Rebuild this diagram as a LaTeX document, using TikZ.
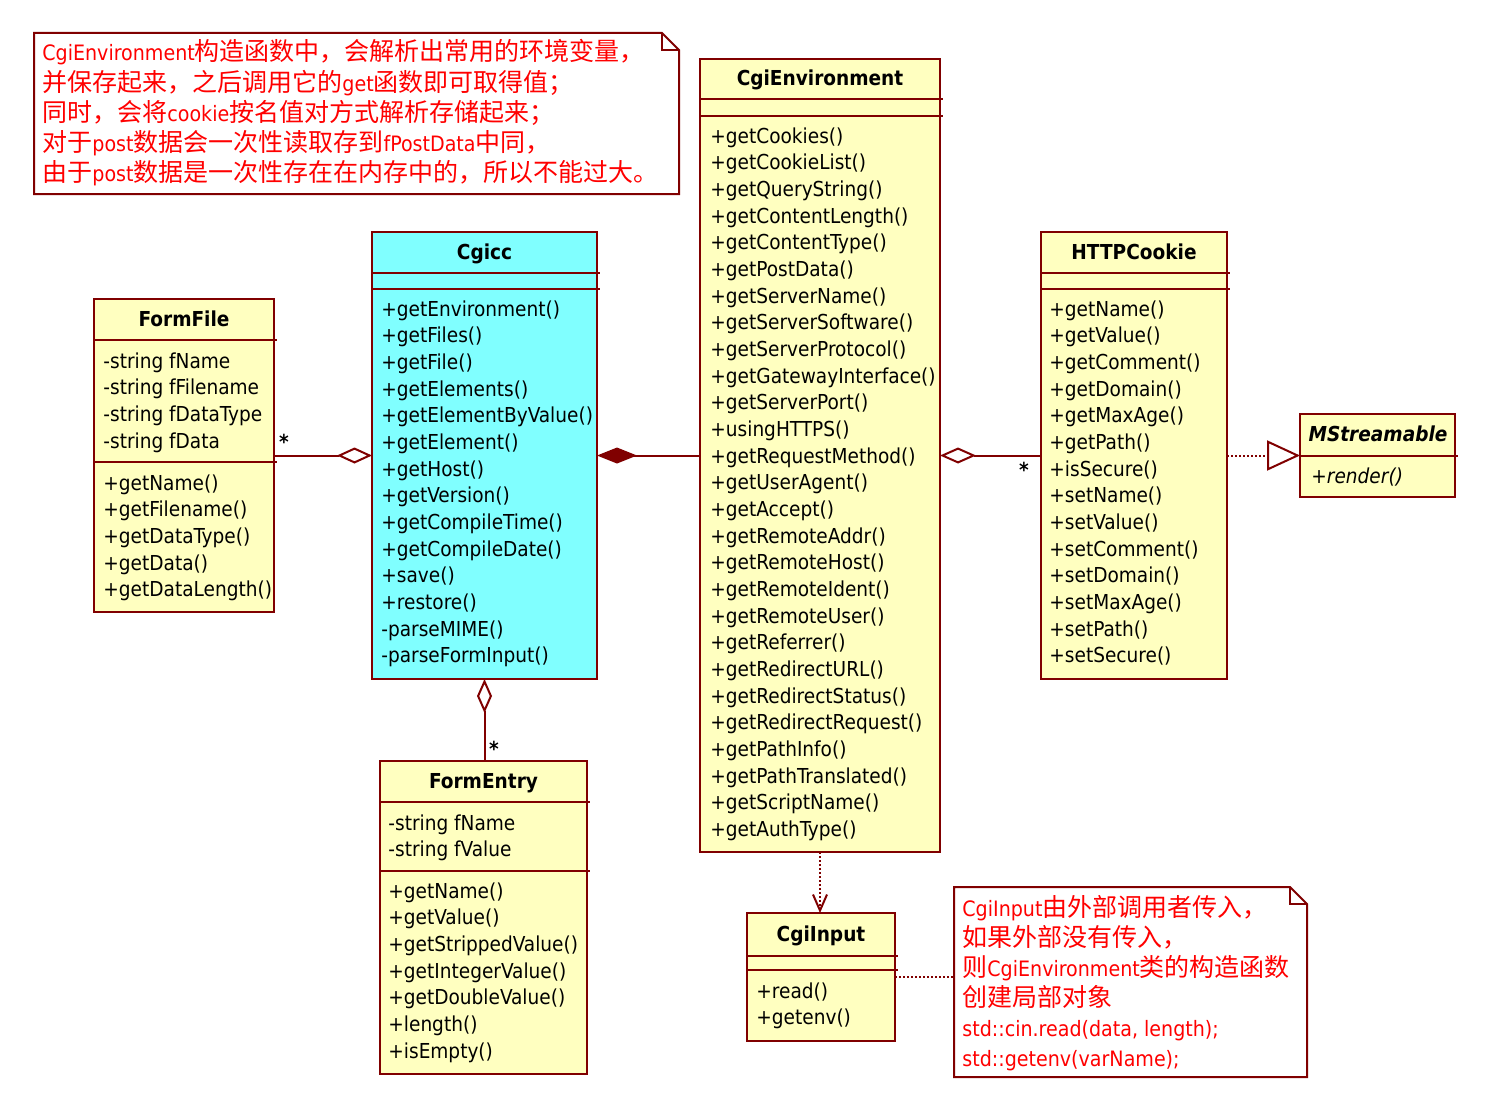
\documentclass[tikz,border=0pt]{standalone}
\usepackage{fontspec}
\setmainfont{DejaVu Sans Condensed}[BoldFont=DejaVu Sans Condensed Bold, ItalicFont=DejaVu Sans Condensed Oblique, BoldItalicFont=DejaVu Sans Condensed Bold Oblique]
\newfontfamily\cjk{Noto Sans CJK SC}
\usetikzlibrary{arrows.meta,fit}
\definecolor{bord}{RGB}{128,0,0}
\definecolor{clsfill}{RGB}{255,255,192}
\definecolor{cyanfill}{RGB}{128,255,255}
\definecolor{notered}{RGB}{255,0,0}
\newcommand\clsfont{\fontsize{10.3}{12}\selectfont}
\newcommand\notefont{\fontsize{10.6}{12}\selectfont}
\newcommand\zh[1]{{\cjk\fontsize{12.5}{14}\selectfont #1}}
\newcommand\sepat[2]{\draw[sepline] (#1.west |- 0,#2) -- ([xshift=1.5pt]#1.east |- 0,#2);}
\newcommand\mlist[4]{\foreach \t [count=\i] in {#4} {\node[txt] (#1-\i) at (#2,{#3+(\i-1)*26.67+7}) {\t};}}
\begin{document}
\begin{tikzpicture}[x=0.5pt,y=-0.5pt,
 bordline/.style={draw=bord, line width=1pt},
 umlclass/.style={draw=bord, line width=1pt, fill=clsfill, inner sep=0pt, outer sep=0pt},
 txt/.style={anchor=base west, inner sep=0pt, font=\clsfont},
 ttl/.style={anchor=base, inner sep=0pt, font=\clsfont\bfseries},
 sepline/.style={draw=bord, line width=1pt},
 star/.style={inner sep=0pt, font=\clsfont\bfseries},
 notebox/.style={inner sep=0pt, outer sep=0pt, fill=white},
 notetxt/.style={anchor=base west, inner sep=0pt, font=\notefont, text=notered},
 dotline/.style={draw=bord, line width=1pt, dash pattern=on 1pt off 1pt},
]
\fill[white] (0,0) rectangle (1491,1113);
\useasboundingbox (0,0) rectangle (1491,1113);

% ---------- Note 1 ----------
\node[notebox, fit={(34,33)(679,194)}] (note1) {};
\draw[bordline] (note1.north west) -- ([xshift=-8.5pt]note1.north east) -- ([yshift=-8.5pt]note1.north east) -- (note1.south east) -- (note1.south west) -- cycle;
\draw[bordline] ([xshift=-8.5pt]note1.north east) -- ++(0,-8.5pt) -- ([yshift=-8.5pt]note1.north east);
\node[notetxt] (n1a) at (42,61) {CgiEnvironment\zh{构造函数中，会解析出常用的环境变量，}};
\node[notetxt] (n1b) at (42,91) {\zh{并保存起来，之后调用它的}get\zh{函数即可取得值；}};
\node[notetxt] (n1c) at (42,121) {\zh{同时，会将}cookie\zh{按名值对方式解析存储起来；}};
\node[notetxt] (n1d) at (42,151) {\zh{对于}post\zh{数据会一次性读取存到}fPostData\zh{中同，}};
\node[notetxt] (n1e) at (42,181) {\zh{由于}post\zh{数据是一次性存在在内存中的，所以不能过大。}};

% ---------- Note 2 ----------
\node[notebox, fit={(954,887)(1307,1077)}] (note2) {};
\draw[bordline] (note2.north west) -- ([xshift=-8.5pt]note2.north east) -- ([yshift=-8.5pt]note2.north east) -- (note2.south east) -- (note2.south west) -- cycle;
\draw[bordline] ([xshift=-8.5pt]note2.north east) -- ++(0,-8.5pt) -- ([yshift=-8.5pt]note2.north east);
\node[notetxt] (n2a) at (962,916) {CgiInput\zh{由外部调用者传入，}};
\node[notetxt] (n2b) at (962,946) {\zh{如果外部没有传入，}};
\node[notetxt] (n2c) at (962,976) {\zh{则}CgiEnvironment\zh{类的构造函数}};
\node[notetxt] (n2d) at (962,1006) {\zh{创建局部对象}};
\node[notetxt] (n2e) at (962,1036) {std::cin.read(data, length);};
\node[notetxt] (n2f) at (962,1066) {std::getenv(varName);};

% ---------- FormFile ----------
\node[umlclass, fit={(94,299)(274,612)}] (formfile) {};
\node[ttl] (formfile-t) at (184,326) {FormFile};
\sepat{formfile}{340}
\sepat{formfile}{462}
\mlist{ffa}{103}{361}{-string fName,-string fFilename,-string fDataType,-string fData}
\mlist{ffm}{103}{483}{+getName(),+getFilename(),+getDataType(),+getData(),+getDataLength()}

% ---------- Cgicc ----------
\node[umlclass, fill=cyanfill, fit={(372,232)(597,679)}] (cgicc) {};
\node[ttl] (cgicc-t) at (484.5,259) {Cgicc};
\sepat{cgicc}{273}
\sepat{cgicc}{289}
\mlist{cgm}{381}{309}{+getEnvironment(),+getFiles(),+getFile(),+getElements(),+getElementByValue(),+getElement(),+getHost(),+getVersion(),+getCompileTime(),+getCompileDate(),+save(),+restore(),-parseMIME(),-parseFormInput()}

% ---------- CgiEnvironment ----------
\node[umlclass, fit={(700,59)(940,852)}] (cgienv) {};
\node[ttl] (cgienv-t) at (820,86) {CgiEnvironment};
\sepat{cgienv}{99}
\sepat{cgienv}{116}
\mlist{cem}{710}{136}{+getCookies(),+getCookieList(),+getQueryString(),+getContentLength(),+getContentType(),+getPostData(),+getServerName(),+getServerSoftware(),+getServerProtocol(),+getGatewayInterface(),+getServerPort(),+usingHTTPS(),+getRequestMethod(),+getUserAgent(),+getAccept(),+getRemoteAddr(),+getRemoteHost(),+getRemoteIdent(),+getRemoteUser(),+getReferrer(),+getRedirectURL(),+getRedirectStatus(),+getRedirectRequest(),+getPathInfo(),+getPathTranslated(),+getScriptName(),+getAuthType()}

% ---------- HTTPCookie ----------
\node[umlclass, fit={(1041,232)(1227,679)}] (cookie) {};
\node[ttl] (cookie-t) at (1134,259) {HTTPCookie};
\sepat{cookie}{273}
\sepat{cookie}{289}
\mlist{ckm}{1049}{309}{+getName(),+getValue(),+getComment(),+getDomain(),+getMaxAge(),+getPath(),+isSecure(),+setName(),+setValue(),+setComment(),+setDomain(),+setMaxAge(),+setPath(),+setSecure()}

% ---------- MStreamable ----------
\node[umlclass, fit={(1300,414)(1455,497)}] (mstream) {};
\node[ttl, font=\clsfont\bfseries\itshape] (mstream-t) at (1378,441) {MStreamable};
\sepat{mstream}{456}
\node[txt, font=\clsfont\itshape] (mstream-m) at (1311,483) {+render()};

% ---------- FormEntry ----------
\node[umlclass, fit={(380,761)(587,1074)}] (formentry) {};
\node[ttl] (formentry-t) at (483.5,788) {FormEntry};
\sepat{formentry}{802}
\sepat{formentry}{871}
\mlist{fea}{388}{823}{-string fName,-string fValue}
\mlist{fem}{388}{891}{+getName(),+getValue(),+getStrippedValue(),+getIntegerValue(),+getDoubleValue(),+length(),+isEmpty()}

% ---------- CgiInput ----------
\node[umlclass, fit={(747,913)(895,1041)}] (cgiinput) {};
\node[ttl] (cgiinput-t) at (821,941) {CgiInput};
\sepat{cgiinput}{956}
\sepat{cgiinput}{970}
\mlist{cim}{756}{991}{+read(),+getenv()}

% ---------- connectors ----------
\draw[bordline, {Diamond[fill=white,length=17.5pt,width=8pt]}-] (cgicc.west) -- (formfile.east);
\draw[bordline, {Diamond[length=20pt,width=8pt]}-] (cgicc.east) -- (cgienv.west);
\draw[bordline, {Diamond[fill=white,length=18pt,width=8pt]}-] (cgienv.east) -- (cookie.west);
\draw[bordline, {Diamond[fill=white,length=17pt,width=7.5pt]}-] (cgicc.south) -- (cgicc.south |- formentry.north);
\draw[dotline, -{Triangle[fill=white,length=16.5pt,width=15pt]}] (cookie.east) -- (mstream.west);
\draw[dotline, -{Straight Barb[length=8pt,width=7pt]}] (cgienv.south) -- (cgienv.south |- cgiinput.north);
\draw[dotline] (cgiinput.east) -- (cgiinput.east -| note2.west);

\node[star] (star1) at (284,442) {*};
\node[star] (star2) at (1024,470) {*};
\node[star] (star3) at (494,749) {*};
\end{tikzpicture}
\end{document}
